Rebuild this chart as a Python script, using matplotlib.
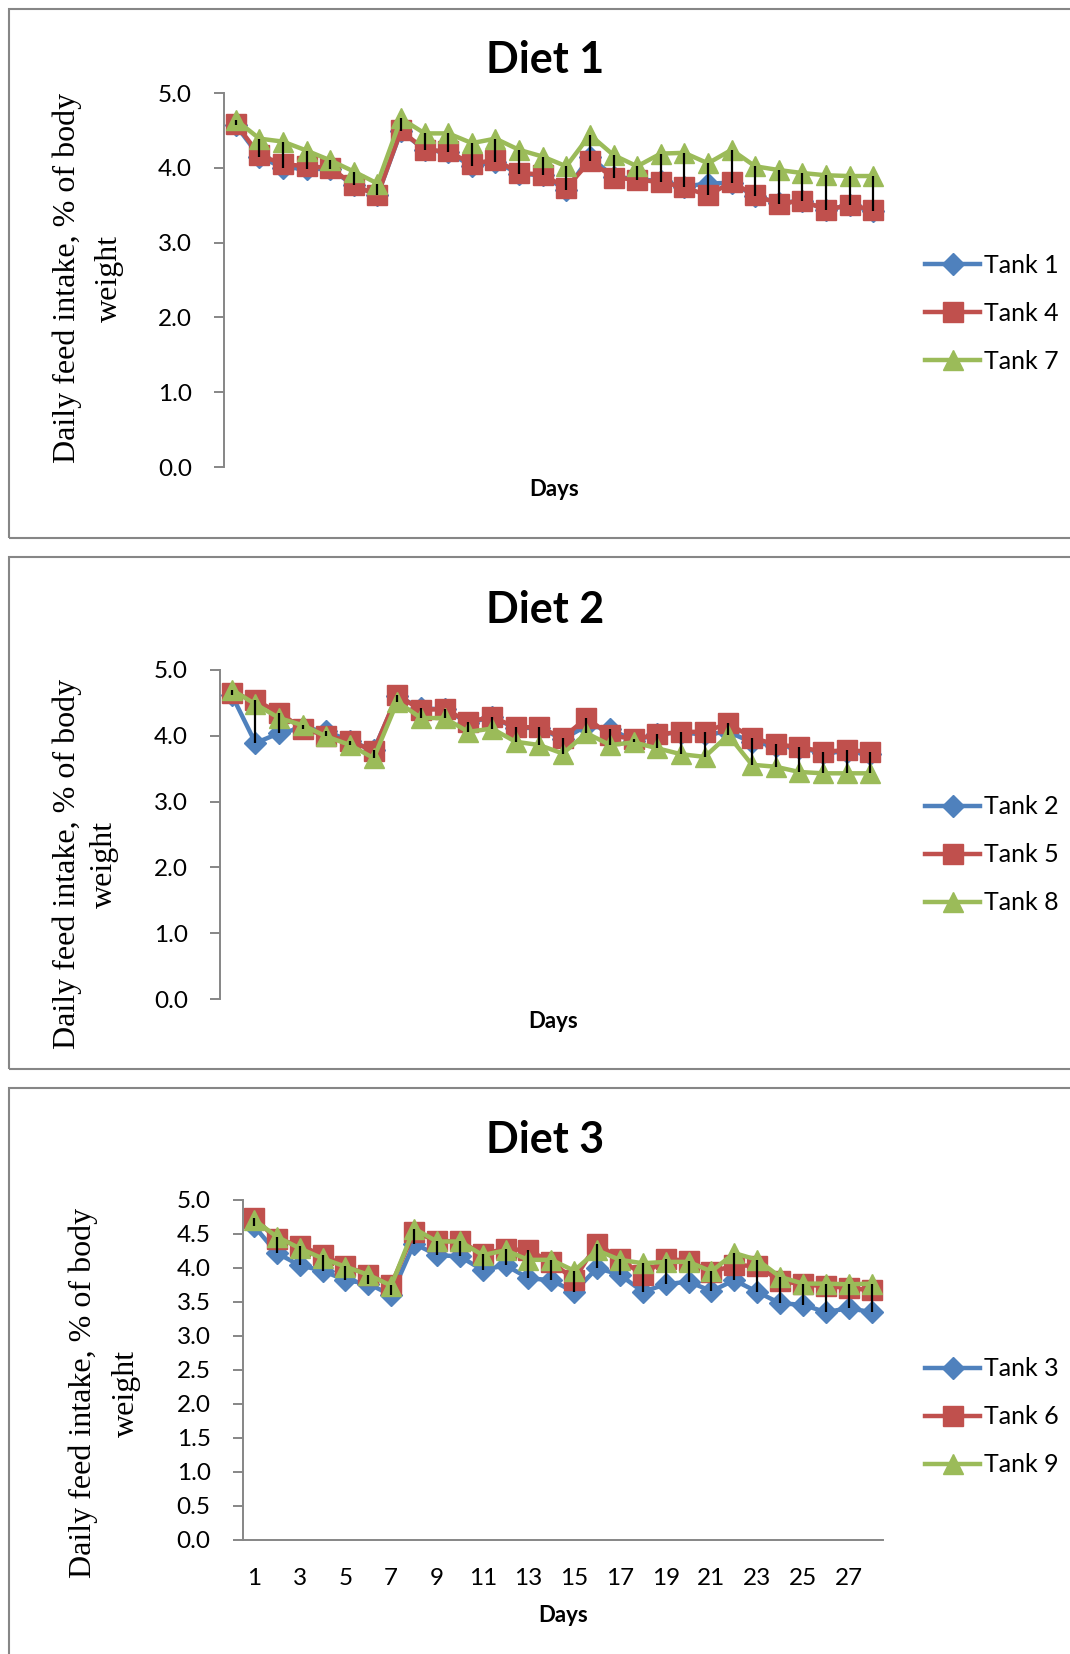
import matplotlib
matplotlib.use("Agg")
import matplotlib.pyplot as plt
from matplotlib.patches import Rectangle

W, H = 1070, 1654

plt.rcParams.update({
    "font.family": ["Lato", "DejaVu Sans"],
    "axes.linewidth": 1.4,
})

days = list(range(1, 29))

tank1 = [4.57, 4.15, 4.00, 3.99, 3.98, 3.77, 3.63, 4.49, 4.24, 4.21, 4.02, 4.08, 3.92, 3.90,
         3.70, 4.15, 3.88, 3.85, 3.82, 3.75, 3.79, 3.80, 3.62, 3.53, 3.56, 3.44, 3.50, 3.42]
tank4 = [4.59, 4.17, 4.05, 4.02, 4.00, 3.77, 3.63, 4.50, 4.24, 4.22, 4.05, 4.11, 3.93, 3.91,
         3.73, 4.09, 3.87, 3.84, 3.81, 3.74, 3.63, 3.81, 3.63, 3.52, 3.56, 3.44, 3.50, 3.44]
tank7 = [4.64, 4.39, 4.35, 4.23, 4.10, 3.95, 3.79, 4.66, 4.46, 4.46, 4.33, 4.39, 4.24, 4.15,
         4.02, 4.44, 4.17, 4.02, 4.19, 4.20, 4.06, 4.24, 4.02, 3.97, 3.93, 3.90, 3.89, 3.89]

tank2 = [4.62, 3.89, 4.04, 4.12, 4.07, 3.92, 3.78, 4.60, 4.42, 4.40, 4.20, 4.28, 4.12, 4.12,
         3.95, 4.15, 4.11, 3.92, 4.03, 4.05, 4.02, 4.06, 3.90, 3.85, 3.82, 3.74, 3.76, 3.72]
tank5 = [4.65, 4.54, 4.35, 4.11, 4.00, 3.92, 3.77, 4.62, 4.39, 4.41, 4.21, 4.29, 4.13, 4.13,
         3.97, 4.27, 4.01, 3.95, 4.02, 4.06, 4.06, 4.19, 3.97, 3.87, 3.83, 3.76, 3.78, 3.76]
tank8 = [4.70, 4.48, 4.27, 4.16, 3.99, 3.86, 3.66, 4.52, 4.27, 4.27, 4.06, 4.11, 3.91, 3.86,
         3.73, 4.04, 3.86, 3.90, 3.81, 3.72, 3.68, 4.01, 3.56, 3.53, 3.45, 3.43, 3.43, 3.43]

tank3 = [4.62, 4.22, 4.04, 3.96, 3.82, 3.77, 3.60, 4.36, 4.19, 4.17, 3.97, 4.04, 3.85, 3.82,
         3.65, 4.00, 3.90, 3.65, 3.76, 3.80, 3.66, 3.82, 3.65, 3.48, 3.46, 3.35, 3.41, 3.35]
tank6 = [4.73, 4.43, 4.33, 4.19, 4.03, 3.90, 3.75, 4.53, 4.40, 4.39, 4.21, 4.28, 4.26, 4.09,
         3.83, 4.36, 4.13, 3.90, 4.13, 4.11, 3.94, 4.04, 4.03, 3.81, 3.76, 3.73, 3.71, 3.67]
tank9 = [4.71, 4.46, 4.29, 4.14, 4.02, 3.90, 3.74, 4.58, 4.39, 4.39, 4.19, 4.26, 4.12, 4.12,
         3.96, 4.26, 4.12, 4.07, 4.09, 4.09, 3.95, 4.22, 4.12, 3.87, 3.77, 3.77, 3.76, 3.77]

BLUE, RED, GREEN = "#4F81BD", "#C0504D", "#9BBB59"
GREY = "#868686"
YLABEL = "Daily feed intake, % of body\nweight"


def px_rect(left, top, right, bottom):
    return [left / W, 1 - bottom / H, (right - left) / W, (bottom - top) / H]


def panel(fig, rect, title, series, names, yticks, show_x, title_y, days_xy,
          ylabel_xy, ylabel_ls, legend_y):
    left, top, right, bottom = rect
    ax = fig.add_axes(px_rect(left, top, right, bottom))
    styles = [(BLUE, "D", 11), (RED, "s", 14), (GREEN, "^", 15)]
    for vals, name, (c, m, ms) in zip(series, names, styles):
        ax.plot(days, vals, color=c, lw=3.2, marker=m, ms=ms, mec=c, mfc=c, label=name)
    # high-low lines between the three tanks
    lo = [min(v) for v in zip(*series)]
    hi = [max(v) for v in zip(*series)]
    ax.vlines(days, lo, hi, color="black", lw=1.6, zorder=5)

    ax.set_xlim(0.5, 28.5)
    ax.set_ylim(0, 5)
    ax.set_yticks(yticks)
    ax.set_yticklabels([f"{t:.1f}" for t in yticks])
    for s in ["top", "right"]:
        ax.spines[s].set_visible(False)
    ax.spines["left"].set_color(GREY)
    ax.spines["bottom"].set_color(GREY)
    ax.tick_params(axis="y", length=7, width=1.4, color=GREY, pad=16, labelsize=17.5)
    if show_x:
        ax.set_xticks(days[::2])
        ax.tick_params(axis="x", length=0, pad=20, labelsize=17.5)
    else:
        ax.spines["bottom"].set_visible(False)
        ax.set_xticks([])

    fig.text(545 / W, 1 - title_y / H, title, fontsize=31, fontweight="bold",
             ha="center", va="center")
    fig.text(days_xy[0] / W, 1 - days_xy[1] / H, "Days", fontsize=16,
             fontweight="bold", ha="center", va="center")
    fig.text(ylabel_xy[0] / W, 1 - ylabel_xy[1] / H, YLABEL, rotation=90,
             family="Liberation Serif", fontsize=23, ha="center", va="center",
             multialignment="center", linespacing=ylabel_ls)
    fig.legend(handles=ax.get_lines(), loc="center left",
               bbox_to_anchor=(925 / W, 1 - legend_y / H), frameon=False,
               fontsize=18, handlelength=2.2, handletextpad=0.15,
               labelspacing=1.0, borderpad=0, borderaxespad=0)
    return ax


fig = plt.figure(figsize=(W / 100, H / 100), dpi=100)
fig.patch.set_facecolor("white")

for top, bottom in [(8.5, 538), (557, 1069), (1088, 1700)]:
    fig.patches.append(Rectangle((9 / W, 1 - bottom / H), 1.2, (bottom - top) / H,
                                 transform=fig.transFigure, fill=False,
                                 edgecolor=GREY, lw=1.5))

panel(fig, (224, 93, 885, 467), "Diet 1", [tank1, tank4, tank7],
      ["Tank 1", "Tank 4", "Tank 7"], [0, 1, 2, 3, 4, 5], False, 60,
      (554, 490), (88, 278), 1.57, 313.6)
panel(fig, (220, 670, 882, 999), "Diet 2", [tank2, tank5, tank8],
      ["Tank 2", "Tank 5", "Tank 8"], [0, 1, 2, 3, 4, 5], False, 610,
      (553, 1021), (85.5, 864), 1.38, 855)
panel(fig, (242.5, 1200, 883, 1540), "Diet 3", [tank3, tank6, tank9],
      ["Tank 3", "Tank 6", "Tank 9"], [0, 0.5, 1, 1.5, 2, 2.5, 3, 3.5, 4, 4.5, 5],
      True, 1140, (563, 1615), (104.5, 1393), 1.65, 1417)

fig.savefig("out.png", dpi=100, facecolor="white")
